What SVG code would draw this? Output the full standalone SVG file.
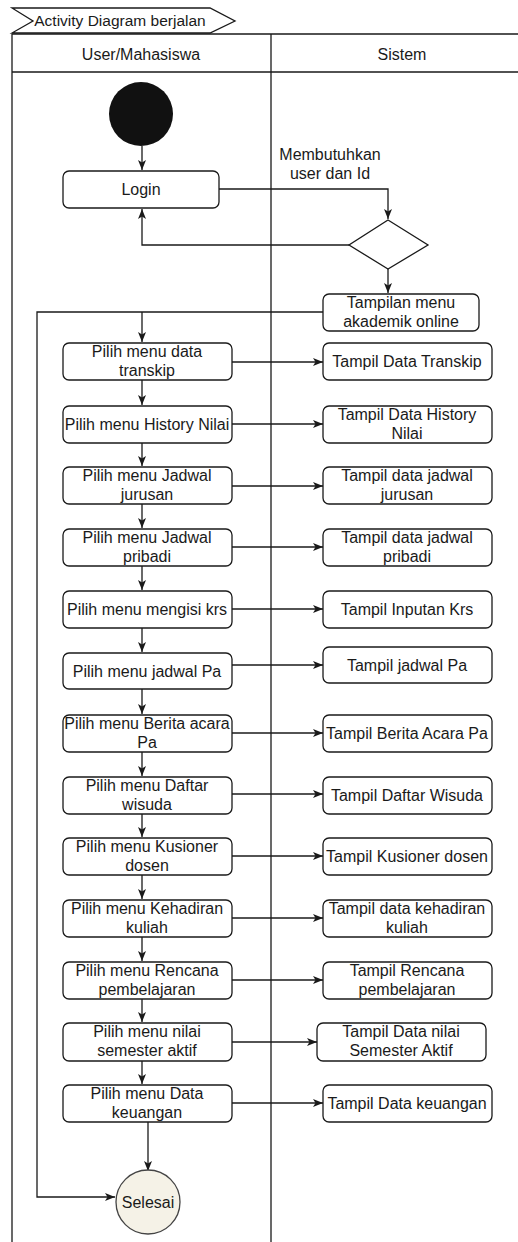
<svg xmlns="http://www.w3.org/2000/svg" width="518" height="1242" viewBox="0 0 518 1242">
<style>
text{font-family:"Liberation Sans",Arial,sans-serif;font-size:16px;fill:#1a1a1a;text-anchor:middle}
.box{fill:#fff;stroke:#1a1a1a;stroke-width:1.3}
.ln{fill:none;stroke:#1a1a1a;stroke-width:1.3}
.arr{fill:none;stroke:#1a1a1a;stroke-width:1.3;marker-end:url(#ah)}
</style>
<defs>
<marker id="ah" viewBox="0 0 10 8" refX="10" refY="4" markerWidth="10" markerHeight="8" markerUnits="userSpaceOnUse" orient="auto">
<path d="M0,0 L10,4 L0,8 L2.5,4 z" fill="#1a1a1a"/>
</marker>
</defs>
<rect width="518" height="1242" fill="#fff"/>
<g id="pool">
<path class="ln" d="M12,8 L210,8 L235,21 L210,33 L12,33 L33,21 Z"/>
<text x="120" y="26" style="font-size:15.5px">Activity Diagram berjalan</text>
<path class="ln" d="M12,34 L518,34 M12,72 L518,72 M12,34 L12,1242 M271,34 L271,1242"/>
<text x="141" y="60">User/Mahasiswa</text>
<text x="402" y="60">Sistem</text>
</g>
<g id="connectors">
<path class="arr" d="M142,146 L142,170"/>
<path class="arr" d="M219,189 L388,189 L388,219"/>
<text x="330" y="160">Membutuhkan</text>
<text x="330" y="179">user dan Id</text>
<path class="arr" d="M349,245 L142,245 L142,209"/>
<path class="arr" d="M388,269 L388,293"/>
<path class="arr" d="M323,312 L37,312 L37,1197 L115,1197"/>
<path class="arr" d="M142,312 L142,342"/>
<path class="arr" d="M142,380 L142,405"/>
<path class="arr" d="M142,443 L142,466"/>
<path class="arr" d="M142,504 L142,528"/>
<path class="arr" d="M142,566 L142,590"/>
<path class="arr" d="M142,628 L142,652"/>
<path class="arr" d="M142,689 L142,714"/>
<path class="arr" d="M142,752 L142,776"/>
<path class="arr" d="M142,814 L142,837"/>
<path class="arr" d="M142,875 L142,899"/>
<path class="arr" d="M142,937 L142,961"/>
<path class="arr" d="M142,999 L142,1022"/>
<path class="arr" d="M142,1061 L142,1084"/>
<path class="arr" d="M148,1122 L148,1171"/>
<path class="arr" d="M232,362 L323,362"/>
<path class="arr" d="M232,424 L323,424"/>
<path class="arr" d="M232,486 L323,486"/>
<path class="arr" d="M232,547 L323,547"/>
<path class="arr" d="M232,609 L323,609"/>
<path class="arr" d="M232,665 L323,665"/>
<path class="arr" d="M232,733 L323,733"/>
<path class="arr" d="M232,794 L323,794"/>
<path class="arr" d="M232,856 L323,856"/>
<path class="arr" d="M232,918 L323,918"/>
<path class="arr" d="M232,980 L323,980"/>
<path class="arr" d="M232,1042 L317,1042"/>
<path class="arr" d="M232,1103 L323,1103"/>
</g>
<g id="start"><circle cx="141" cy="114" r="32" fill="#111"/></g>
<g id="login"><rect class="box" x="63" y="171" width="156" height="37" rx="6"/><text x="141" y="195">Login</text></g>
<g id="decision"><path class="box" d="M388,220 L428,245 L388,269 L349,245 Z"/></g>
<g id="tampilan"><rect class="box" x="323" y="294" width="156" height="37" rx="6"/><text x="401" y="308">Tampilan menu</text><text x="401" y="327">akademik online</text></g>

<g id="l1"><rect class="box" x="63" y="343" width="169" height="37" rx="6"/><text x="147" y="357">Pilih menu data</text><text x="147" y="376">transkip</text></g>
<g id="r1"><rect class="box" x="323" y="343" width="169" height="37" rx="6"/><text x="407" y="367">Tampil Data Transkip</text></g>

<g id="l2"><rect class="box" x="63" y="406" width="169" height="37" rx="6"/><text x="147" y="430">Pilih menu History Nilai</text></g>
<g id="r2"><rect class="box" x="323" y="406" width="169" height="37" rx="6"/><text x="407" y="420">Tampil Data History</text><text x="407" y="439">Nilai</text></g>

<g id="l3"><rect class="box" x="63" y="467" width="169" height="37" rx="6"/><text x="147" y="481">Pilih menu Jadwal</text><text x="147" y="500">jurusan</text></g>
<g id="r3"><rect class="box" x="323" y="467" width="169" height="37" rx="6"/><text x="407" y="481">Tampil data jadwal</text><text x="407" y="500">jurusan</text></g>

<g id="l4"><rect class="box" x="63" y="529" width="169" height="37" rx="6"/><text x="147" y="543">Pilih menu Jadwal</text><text x="147" y="562">pribadi</text></g>
<g id="r4"><rect class="box" x="323" y="529" width="169" height="37" rx="6"/><text x="407" y="543">Tampil data jadwal</text><text x="407" y="562">pribadi</text></g>

<g id="l5"><rect class="box" x="63" y="591" width="169" height="37" rx="6"/><text x="147" y="615">Pilih menu mengisi krs</text></g>
<g id="r5"><rect class="box" x="323" y="591" width="169" height="37" rx="6"/><text x="407" y="615">Tampil Inputan Krs</text></g>

<g id="l6"><rect class="box" x="63" y="653" width="169" height="36" rx="6"/><text x="147" y="677">Pilih menu jadwal Pa</text></g>
<g id="r6"><rect class="box" x="323" y="647" width="169" height="36" rx="6"/><text x="407" y="671">Tampil jadwal Pa</text></g>

<g id="l7"><rect class="box" x="63" y="715" width="169" height="37" rx="6"/><text x="147" y="729">Pilih menu Berita acara</text><text x="147" y="748">Pa</text></g>
<g id="r7"><rect class="box" x="323" y="715" width="169" height="37" rx="6"/><text x="407" y="739">Tampil Berita Acara Pa</text></g>

<g id="l8"><rect class="box" x="63" y="777" width="169" height="37" rx="6"/><text x="147" y="791">Pilih menu Daftar</text><text x="147" y="810">wisuda</text></g>
<g id="r8"><rect class="box" x="323" y="777" width="169" height="37" rx="6"/><text x="407" y="801">Tampil Daftar Wisuda</text></g>

<g id="l9"><rect class="box" x="63" y="838" width="169" height="37" rx="6"/><text x="147" y="852">Pilih menu Kusioner</text><text x="147" y="871">dosen</text></g>
<g id="r9"><rect class="box" x="323" y="838" width="169" height="37" rx="6"/><text x="407" y="862">Tampil Kusioner dosen</text></g>

<g id="l10"><rect class="box" x="63" y="900" width="169" height="37" rx="6"/><text x="147" y="914">Pilih menu Kehadiran</text><text x="147" y="933">kuliah</text></g>
<g id="r10"><rect class="box" x="323" y="900" width="169" height="37" rx="6"/><text x="407" y="914">Tampil data kehadiran</text><text x="407" y="933">kuliah</text></g>

<g id="l11"><rect class="box" x="63" y="962" width="169" height="37" rx="6"/><text x="147" y="976">Pilih menu Rencana</text><text x="147" y="995">pembelajaran</text></g>
<g id="r11"><rect class="box" x="323" y="962" width="169" height="37" rx="6"/><text x="407" y="976">Tampil Rencana</text><text x="407" y="995">pembelajaran</text></g>

<g id="l12"><rect class="box" x="63" y="1023" width="169" height="38" rx="6"/><text x="147" y="1037">Pilih menu nilai</text><text x="147" y="1056">semester aktif</text></g>
<g id="r12"><rect class="box" x="317" y="1023" width="169" height="38" rx="6"/><text x="401" y="1037">Tampil Data nilai</text><text x="401" y="1056">Semester Aktif</text></g>

<g id="l13"><rect class="box" x="63" y="1085" width="169" height="37" rx="6"/><text x="147" y="1099">Pilih menu Data</text><text x="147" y="1118">keuangan</text></g>
<g id="r13"><rect class="box" x="323" y="1085" width="169" height="37" rx="6"/><text x="407" y="1109">Tampil Data keuangan</text></g>

<g id="selesai"><circle cx="148" cy="1202" r="32" fill="#f5f2e7" stroke="#444" stroke-width="1.3"/><text x="148" y="1208">Selesai</text></g>
</svg>
